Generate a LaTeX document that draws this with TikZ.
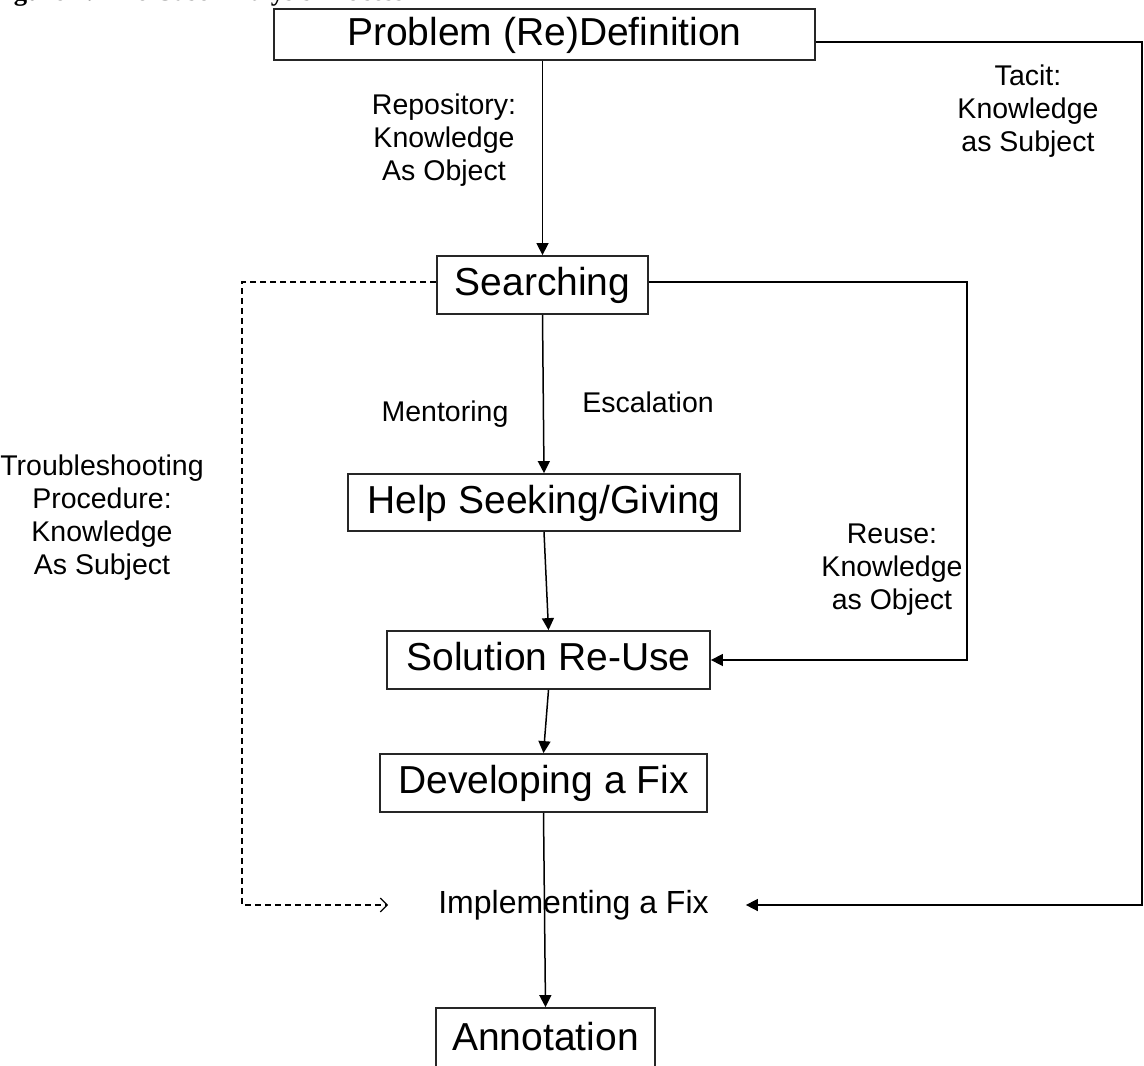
\documentclass[tikz,border=0pt]{standalone}
\usepackage{fontspec}
\setmainfont{Liberation Sans}
\newfontfamily\captionfont{Liberation Serif}
\usetikzlibrary{arrows.meta}

\begin{document}
\begin{tikzpicture}[x=1pt,y=-1pt,
  box/.style={draw=black!85, line width=1.8pt, fill=white,
    font=\fontsize{39}{46}\selectfont, inner sep=0pt,
    text height=29pt, text depth=8pt},
  lbl/.style={font=\fontsize{28.5}{33}\selectfont, align=center, inner sep=0pt},
  conn/.style={line width=1.5pt, -{Triangle[length=12pt,width=12pt]}},
  dashconn/.style={line width=1.2pt, dash pattern=on 6pt off 4pt,
    -{Straight Barb[length=7pt,width=14pt,line width=1.2pt]}}
]
\useasboundingbox (0,0) rectangle (1144,1066);

% caption above the figure (mostly outside the page)
\node[anchor=base west, inner sep=0pt,
  font=\captionfont\bfseries\fontsize{26.7}{30}\selectfont] (caption)
  at (-10,0.5) {Figure 1: The Case Analysis Process};

% process steps
\node[box, minimum width=541pt, minimum height=51pt] (prob) at (544.5,34.5) {Problem (Re)Definition};
\node[box, minimum width=211pt, minimum height=58pt] (search) at (542.5,285) {Searching};
\node[box, minimum width=392pt, minimum height=57pt] (help) at (544,502.5) {Help Seeking/Giving};
\node[box, minimum width=323pt, minimum height=58pt] (sol) at (548.5,660) {Solution Re-Use};
\node[box, minimum width=327pt, minimum height=58pt] (dev) at (543.5,783) {Developing a Fix};
\node[box, minimum width=219pt, minimum height=64pt] (ann) at (545.5,1040) {Annotation};
\node[lbl, font=\fontsize{32}{36}\selectfont] (impl) at (573.5,905) {Implementing a Fix};

% edge labels
\node[lbl] (repo) at (444,140) {Repository:\\Knowledge\\As Object};
\node[lbl] (tacit) at (1028,111) {Tacit:\\Knowledge\\as Subject};
\node[lbl] (mentor) at (445,414) {Mentoring};
\node[lbl] (escal) at (648,402) {Escalation};
\node[lbl] (trouble) at (102,518) {Troubleshooting\\Procedure:\\Knowledge\\As Subject};
\node[lbl] (reuse) at (892,570) {Reuse:\\Knowledge\\as Object};

% route corners
\coordinate (tacitCorner) at (1142,42);
\coordinate (reuseCorner) at (967,282);
\coordinate (procCorner) at (242,282);

% main flow
\draw[conn] (search.north |- prob.south) -- (search.north);
\draw[conn] (search.south) -- (help.north);
\draw[conn] (help.south) -- (sol.north);
\draw[conn] (sol.south) -- (dev.north);
\draw[conn] (dev.south) -- (ann.north);

% side routes
\draw[conn] (prob.east |- tacitCorner) -- (tacitCorner) |- ([xshift=37pt]impl.east);
\draw[conn] (search.east |- reuseCorner) -- (reuseCorner) |- (sol.east);
\draw[dashconn] (search.west |- procCorner) -- (procCorner) |- ([xshift=-50pt]impl.west);
\end{tikzpicture}
\end{document}
